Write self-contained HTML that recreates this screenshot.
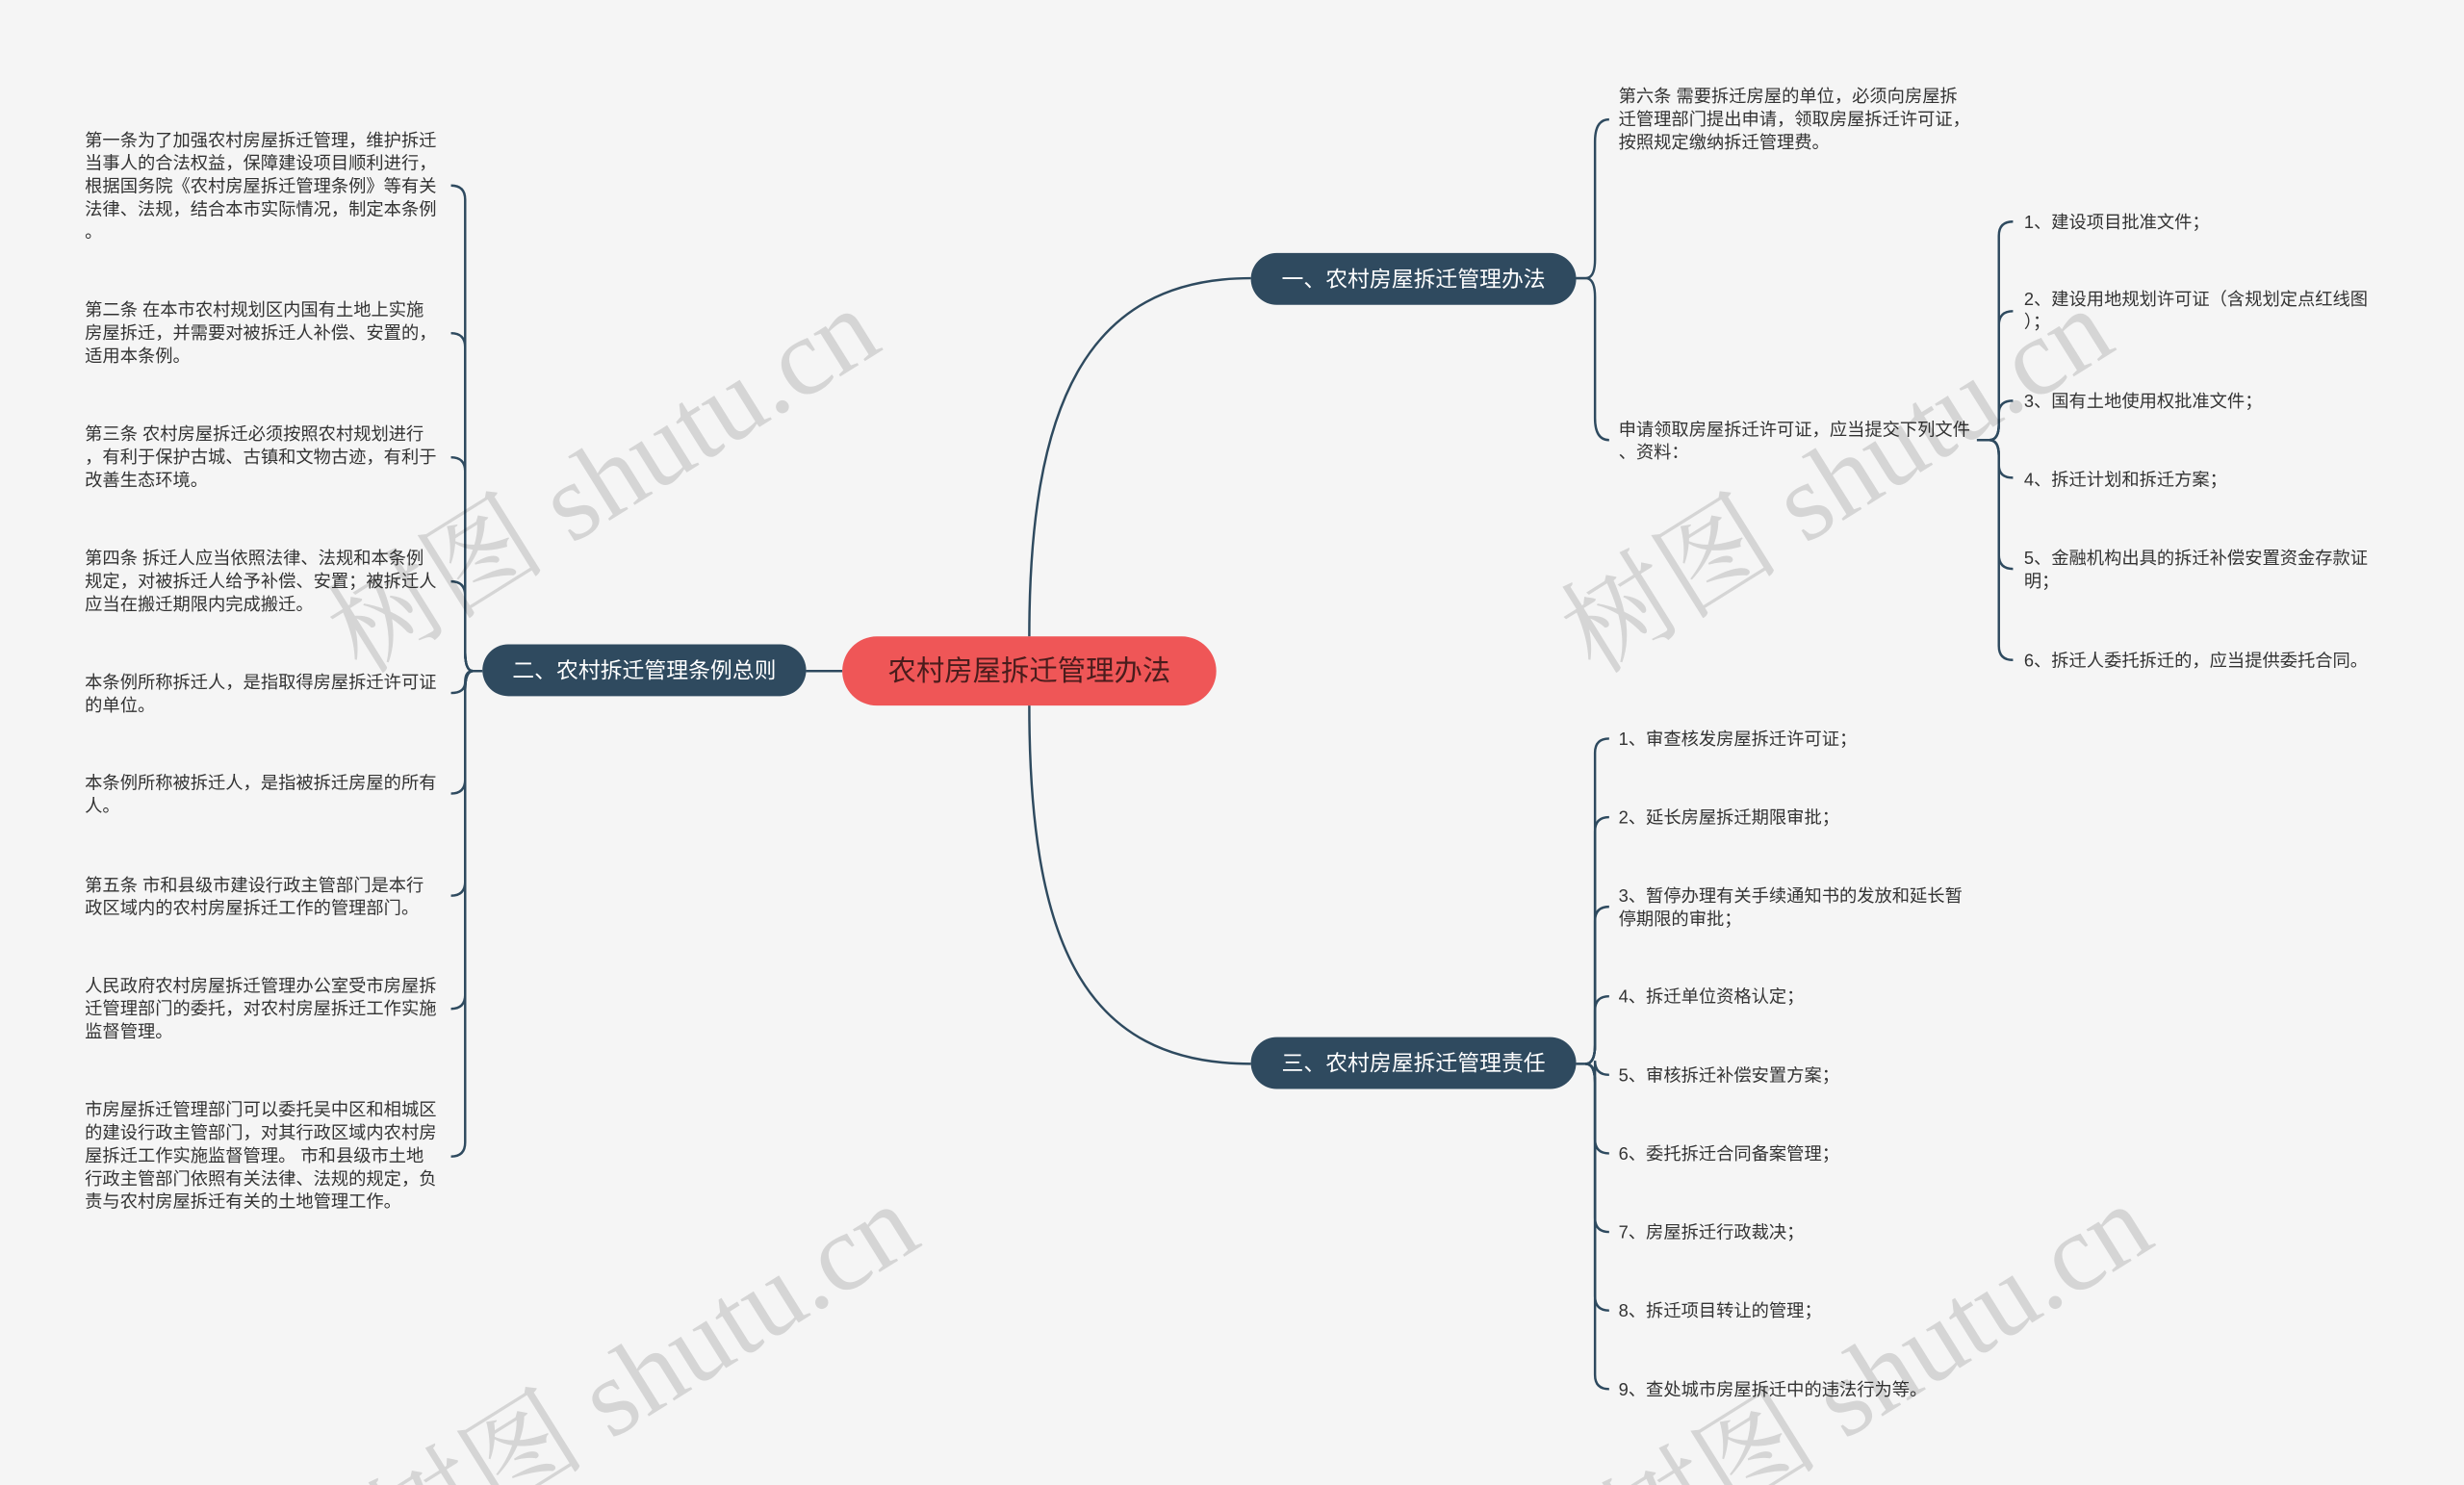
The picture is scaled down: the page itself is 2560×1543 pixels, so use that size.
<!DOCTYPE html>
<html><head><meta charset="utf-8"><style>
html,body{margin:0;padding:0;background:#f5f5f5;width:2560px;height:1543px;overflow:hidden;}
svg{display:block}
text{font-family:"Liberation Sans","Noto Sans CJK SC",sans-serif;}
.t{font-size:11.2px;fill:#333;}
.n{font-size:14px;fill:#fff;}
.wm{font-family:"Liberation Serif","Noto Serif CJK SC",serif;font-size:70px;fill:rgba(0,0,0,0.13);}
.c{fill:none;stroke:#2e4a5f;stroke-width:1.5;}
</style></head><body>
<svg width="2560" height="1543" viewBox="0 0 1568 945" xmlns="http://www.w3.org/2000/svg" overflow="hidden">
<rect width="1568" height="945" fill="#f5f5f5"/>
<path class="c" d="M655,405 C655,260 690,177 796,177"/>
<path class="c" d="M655,449 C655,600 690,677 796,677"/>
<path class="c" d="M513,427 L536,427"/>
<path class="c" d="M1003,177 H1009 Q1015,177 1015,165 V90 Q1015,76 1024,76"/>
<path class="c" d="M1003,177 H1009 Q1015,177 1015,189 V266 Q1015,280 1024,280"/>
<g>
<path class="c" d="M1258,280 H1266 Q1272,280 1272,270 V150 Q1272,141 1281,141"/>
<path class="c" d="M1266,280 Q1272,280 1272,270 V207 Q1272,198 1281,198"/>
<path class="c" d="M1266,280 Q1272,280 1272,270 V263 Q1272,255 1281,255"/>
<path class="c" d="M1266,280 Q1272,280 1272,290 V296 Q1272,304 1281,304"/>
<path class="c" d="M1266,280 Q1272,280 1272,290 V353 Q1272,362 1281,362"/>
<path class="c" d="M1266,280 Q1272,280 1272,290 V411 Q1272,420 1281,420"/>
</g>
<g>
<path class="c" d="M1003,677 H1009 Q1015,677 1015,665 V479 Q1015,470 1024,470"/>
<path class="c" d="M1009,677 Q1015,677 1015,665 V529 Q1015,520 1024,520"/>
<path class="c" d="M1009,677 Q1015,677 1015,665 V586 Q1015,577 1024,577"/>
<path class="c" d="M1009,677 Q1015,677 1015,665 V643 Q1015,634 1024,634"/>
<path class="c" d="M1009,677 Q1015,677 1015,687 V675 Q1015,684 1024,684"/>
<path class="c" d="M1009,677 Q1015,677 1015,689 V725 Q1015,734 1024,734"/>
<path class="c" d="M1009,677 Q1015,677 1015,689 V775 Q1015,784 1024,784"/>
<path class="c" d="M1009,677 Q1015,677 1015,689 V825 Q1015,834 1024,834"/>
<path class="c" d="M1009,677 Q1015,677 1015,689 V875 Q1015,884 1024,884"/>
</g>
<g>
<path class="c" d="M307,427 H301 Q296,427 296,415 V127 Q296,118 287,118"/>
<path class="c" d="M301,427 Q296,427 296,415 V221 Q296,212 287,212"/>
<path class="c" d="M301,427 Q296,427 296,415 V300 Q296,291 287,291"/>
<path class="c" d="M301,427 Q296,427 296,415 V379 Q296,370 287,370"/>
<path class="c" d="M301,427 Q296,427 296,434 Q296,441 287,441"/>
<path class="c" d="M301,427 Q296,427 296,439 V496 Q296,505 287,505"/>
<path class="c" d="M301,427 Q296,427 296,439 V561 Q296,570 287,570"/>
<path class="c" d="M301,427 Q296,427 296,439 V633 Q296,642 287,642"/>
<path class="c" d="M301,427 Q296,427 296,439 V727 Q296,736 287,736"/>
</g>
<rect x="536" y="405" width="238" height="44" rx="22" fill="#ef5657"/>
<text x="655" y="433" text-anchor="middle" style="font-size:18px;fill:#4a1c1c">农村房屋拆迁管理办法</text>
<rect x="796" y="161" width="207" height="33" rx="16.5" fill="#2f4a5f"/>
<text class="n" x="899.5" y="182.5" text-anchor="middle">一、农村房屋拆迁管理办法</text>
<rect x="307" y="410" width="206" height="33" rx="16.5" fill="#2f4a5f"/>
<text class="n" x="410" y="431.5" text-anchor="middle">二、农村拆迁管理条例总则</text>
<rect x="796" y="660" width="207" height="33" rx="16.5" fill="#2f4a5f"/>
<text class="n" x="899.5" y="681.5" text-anchor="middle">三、农村房屋拆迁管理责任</text>
<text class="t" x="1030" y="65">第六条 需要拆迁房屋的单位，必须向房屋拆<tspan x="1030" dy="14.6">迁管理部门提出申请，领取房屋拆迁许可证，</tspan><tspan x="1030" dy="14.6">按照规定缴纳拆迁管理费。</tspan></text>
<text class="t" x="1030" y="277">申请领取房屋拆迁许可证，应当提交下列文件<tspan x="1030" dy="14.6">、资料：</tspan></text>
<text class="t" x="1288" y="145">1、建设项目批准文件；</text>
<text class="t" x="1288" y="194">2、建设用地规划许可证（含规划定点红线图<tspan x="1288" dy="14.6">）；</tspan></text>
<text class="t" x="1288" y="259">3、国有土地使用权批准文件；</text>
<text class="t" x="1288" y="309">4、拆迁计划和拆迁方案；</text>
<text class="t" x="1288" y="359">5、金融机构出具的拆迁补偿安置资金存款证<tspan x="1288" dy="14.6">明；</tspan></text>
<text class="t" x="1288" y="424">6、拆迁人委托拆迁的，应当提供委托合同。</text>
<text class="t" x="1030" y="474">1、审查核发房屋拆迁许可证；</text>
<text class="t" x="1030" y="524">2、延长房屋拆迁期限审批；</text>
<text class="t" x="1030" y="574">3、暂停办理有关手续通知书的发放和延长暂<tspan x="1030" dy="14.6">停期限的审批；</tspan></text>
<text class="t" x="1030" y="638">4、拆迁单位资格认定；</text>
<text class="t" x="1030" y="688">5、审核拆迁补偿安置方案；</text>
<text class="t" x="1030" y="738">6、委托拆迁合同备案管理；</text>
<text class="t" x="1030" y="788">7、房屋拆迁行政裁决；</text>
<text class="t" x="1030" y="838">8、拆迁项目转让的管理；</text>
<text class="t" x="1030" y="888">9、查处城市房屋拆迁中的违法行为等。</text>
<text class="t" x="54" y="93">第一条为了加强农村房屋拆迁管理，维护拆迁<tspan x="54" dy="14.6">当事人的合法权益，保障建设项目顺利进行，</tspan><tspan x="54" dy="14.6">根据国务院《农村房屋拆迁管理条例》等有关</tspan><tspan x="54" dy="14.6">法律、法规，结合本市实际情况，制定本条例</tspan><tspan x="54" dy="14.6">。</tspan></text>
<text class="t" x="54" y="201">第二条 在本市农村规划区内国有土地上实施<tspan x="54" dy="14.6">房屋拆迁，并需要对被拆迁人补偿、安置的，</tspan><tspan x="54" dy="14.6">适用本条例。</tspan></text>
<text class="t" x="54" y="280">第三条 农村房屋拆迁必须按照农村规划进行<tspan x="54" dy="14.6">，有利于保护古城、古镇和文物古迹，有利于</tspan><tspan x="54" dy="14.6">改善生态环境。</tspan></text>
<text class="t" x="54" y="359">第四条 拆迁人应当依照法律、法规和本条例<tspan x="54" dy="14.6">规定，对被拆迁人给予补偿、安置；被拆迁人</tspan><tspan x="54" dy="14.6">应当在搬迁期限内完成搬迁。</tspan></text>
<text class="t" x="54" y="438">本条例所称拆迁人，是指取得房屋拆迁许可证<tspan x="54" dy="14.6">的单位。</tspan></text>
<text class="t" x="54" y="502">本条例所称被拆迁人，是指被拆迁房屋的所有<tspan x="54" dy="14.6">人。</tspan></text>
<text class="t" x="54" y="567">第五条 市和县级市建设行政主管部门是本行<tspan x="54" dy="14.6">政区域内的农村房屋拆迁工作的管理部门。</tspan></text>
<text class="t" x="54" y="631">人民政府农村房屋拆迁管理办公室受市房屋拆<tspan x="54" dy="14.6">迁管理部门的委托，对农村房屋拆迁工作实施</tspan><tspan x="54" dy="14.6">监督管理。</tspan></text>
<text class="t" x="54" y="710">市房屋拆迁管理部门可以委托吴中区和相城区<tspan x="54" dy="14.6">的建设行政主管部门，对其行政区域内农村房</tspan><tspan x="54" dy="14.6">屋拆迁工作实施监督管理。 市和县级市土地</tspan><tspan x="54" dy="14.6">行政主管部门依照有关法律、法规的规定，负</tspan><tspan x="54" dy="14.6">责与农村房屋拆迁有关的土地管理工作。</tspan></text>
<text class="wm" transform="translate(230,430) rotate(-32)">树图 shutu.cn</text>
<text class="wm" transform="translate(1015,430) rotate(-32)">树图 shutu.cn</text>
<text class="wm" transform="translate(255,1000) rotate(-32)">树图 shutu.cn</text>
<text class="wm" transform="translate(1040,1000) rotate(-32)">树图 shutu.cn</text>
</svg>
</body></html>
